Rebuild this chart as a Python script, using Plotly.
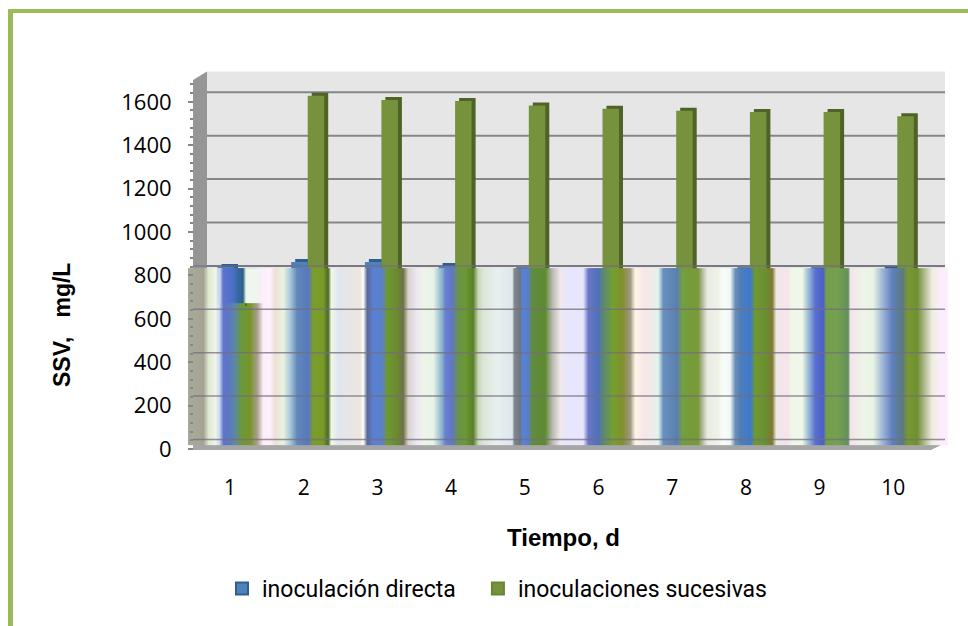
import plotly.graph_objects as go

W, H = 968, 626
DAYS = [1, 2, 3, 4, 5, 6, 7, 8, 9, 10]
DIRECTA = [820, 843, 843, 825, 805, 800, 800, 805, 805, 810]
SUCESIVAS = [640, 1610, 1590, 1585, 1565, 1550, 1540, 1535, 1535, 1515]
Y_TICKS = [0, 200, 400, 600, 800, 1000, 1200, 1400, 1600]
Y_MINOR = list(range(0, 1681, 40))
BAND_GRID = [0, 200, 400, 600, 800]
NAME_A = "inoculación directa\u00a0\u00a0\u00a0"
NAME_B = "inoculaciones sucesivas"
X_TITLE = "Tiempo, d"
Y_TITLE = "SSV,\u00a0\u00a0\u00a0mg/L"

BLUE, BLUE_D = "#4f81bd", "#2f5f8f"
GREEN, GREEN_D = "#76923c", "#4f6228"

# washed-out image band seen over the lower part of the plot: (page x, colour)
BAND = [(193,"#a8a898"),(203,"#a5a394"),(208,"#dfe8cf"),(215,"#eef5e8"),(219,"#c8d8ee"),(222.6,"#5f74cc"),
(230,"#5b7ac0"),(235,"#5e8a9a"),(241.6,"#6c9a2e"),(250,"#78952c"),(256.6,"#a8a08a"),(262.6,"#fdeefc"),
(270,"#fdeffc"),(275,"#efe0d4"),(283,"#e9f5e0"),(290,"#a8c8dc"),(296.6,"#6088b8"),(308,"#5a78c0"),
(313,"#7a9e28"),(323,"#7a9a28"),(328,"#4a6a28"),(330.6,"#f2f8e8"),(338,"#dfe6f0"),(350,"#e8e6e6"),
(360,"#efe6de"),(363,"#ffffff"),(366.6,"#5a6a90"),(372.6,"#5a80d8"),(381.6,"#5a80c8"),(386.6,"#6f9a30"),
(396.6,"#6a8a30"),(403,"#6f7048"),(408,"#d8d4cc"),(416.6,"#efe8f4"),(423,"#eef5e8"),(433,"#e8f4e8"),
(441.6,"#88b0cc"),(445,"#6a80d0"),(451.6,"#6078c8"),(456.6,"#6a9050"),(465,"#6a9a30"),(473,"#5a8028"),
(478,"#c8d8b8"),(483,"#dce6d8"),(496.6,"#e8f0f0"),(511.6,"#dfe6ee"),(514,"#808890"),(520,"#6e7680"),
(521.6,"#5a80d8"),(528,"#5a80c8"),(531.6,"#5f8c40"),(545,"#5f8a30"),(551.6,"#b8b8b0"),(560,"#f0e8ec"),
(566.6,"#e8e6fc"),(583,"#e8e6fc"),(588,"#6a78c8"),(598,"#5070b8"),(603,"#5a8a70"),(613,"#76a030"),
(621.6,"#80902c"),(630,"#a09880"),(635,"#fff4e6"),(643,"#f8e8e8"),(653,"#eeece8"),(658,"#e0f4ec"),
(663,"#6a90c0"),(676.6,"#5a80b0"),(681.6,"#72a040"),(693,"#789a38"),(698,"#789a38"),(701.6,"#b0b898"),
(706.6,"#e8ece0"),(718,"#f0f2ea"),(723,"#f8fff8"),(730,"#f0f8f8"),(735,"#6a90b8"),(740,"#5080b8"),
(750,"#3f78d0"),(755,"#6f9a30"),(765,"#6a9030"),(771.6,"#807830"),(776,"#f0e8e8"),(786.6,"#f6e4ec"),
(791.6,"#eef8e8"),(801.6,"#f0f8e8"),(806.6,"#a8c8d8"),(815,"#5a70d0"),(823,"#4a60c8"),(826,"#74a04c"),
(838,"#74a050"),(848,"#64905c"),(850,"#f2e4ec"),(863,"#eef4e8"),(873,"#e8f4e4"),(881.6,"#a0b8d8"),
(891.6,"#6080c0"),(901.6,"#5a7a80"),(908,"#7a9830"),(916.6,"#6f9030"),(926.6,"#c8ccb0"),(931.6,"#eeeee0"),
(940,"#fcecfc"),(945,"#fcecfc")]
PATCH = [(219,"#c8d8ee"),(222,"#5f74cc"),(232,"#4a70c8"),(236,"#3a6aa8"),(242,"#2f5f88"),(245,"#e8f8e8"),
(250,"#eef8ee"),(258,"#f0f4f0"),(262.6,"#fdeefc")]

S_Y = 0.217     # page px per unit
S_X = 73.7      # page px per day

def yrange(p0):
    return [-(H - p0) / S_Y, p0 / S_Y]

def xrange(c1):
    return [1 - c1 / S_X, 1 + (W - c1) / S_X]

def px(x): return x / W
def py(y): return 1 - y / H
def path(pts):
    return "M" + " L".join(f"{px(x):.5f},{py(y):.5f}" for x, y in pts) + " Z"

fig = go.Figure()

def hidden(i):
    a = "" if i == 1 else str(i)
    fig.add_trace(go.Scatter(x=DAYS, y=[0]*10, mode="markers", marker=dict(opacity=0, size=1),
                             showlegend=False, hoverinfo="skip", xaxis="x"+a, yaxis="y"+a))
hidden(1); hidden(2)

for vals, col, name in ((DIRECTA, BLUE_D, NAME_A), (SUCESIVAS, GREEN_D, NAME_B)):
    fig.add_trace(go.Bar(x=DAYS, y=vals, marker=dict(color=col, line_width=0), showlegend=False,
                         hoverinfo="skip", xaxis="x3", yaxis="y3", name=name))
for vals, col, edge, name in ((DIRECTA, BLUE, "#2f5f8f", NAME_A), (SUCESIVAS, GREEN, "#6b8536", NAME_B)):
    fig.add_trace(go.Bar(x=DAYS, y=vals, marker=dict(color=col, line=dict(width=0)), name=name,
                         xaxis="x4", yaxis="y4", showlegend=False))
    fig.add_trace(go.Scatter(x=[None], y=[None], mode="markers", name=name, xaxis="x4", yaxis="y4",
                             marker=dict(symbol="square", size=15, color=col, line=dict(color=edge, width=1.5))))

def band(stops, lo, hi):
    n = len(stops) - 1
    xs = [s[0] for s in stops]
    dy = (hi - lo) / 4
    scale = [[i / n, s[1]] for i, s in enumerate(stops)]
    zrow = list(range(n + 1))
    fig.add_trace(go.Heatmap(x=xs, y=[lo + dy, hi - dy], z=[zrow, zrow], zmin=0, zmax=n, zsmooth="best",
                             colorscale=scale, showscale=False, hoverinfo="skip", xaxis="x5", yaxis="y5"))

TOP = 815
band([s for s in BAND if s[0] <= 241.6], -2, TOP)
band([s for s in BAND if s[0] >= 250], -2, TOP)
band(PATCH, 655, TOP)

shapes = [
    dict(type="rect", xref="paper", yref="paper", x0=px(207), x1=px(945), y0=py(440), y1=py(71.5),
         fillcolor="#e6e6e6", line_width=0, layer="below"),
    dict(type="path", xref="paper", yref="paper", path=path([(193,80),(207,71.5),(207,440),(193,449)]),
         fillcolor="#969696", line_width=0, layer="below"),
    dict(type="path", xref="paper", yref="paper", path=path([(193,445),(945,441),(945,443),(931,450),(193,450)]),
         fillcolor="#a6a6a6", line_width=0, layer="below"),
    dict(type="rect", xref="paper", yref="paper", x0=px(8), x1=1, y0=py(13), y1=py(9),
         fillcolor="#9bbb59", line_width=0),
    dict(type="rect", xref="paper", yref="paper", x0=px(8), x1=px(13), y0=0, y1=py(9),
         fillcolor="#9bbb59", line_width=0),
]
for v in Y_TICKS:
    shapes.append(dict(type="line", xref="paper", yref="y2", x0=px(207), x1=px(945), y0=v, y1=v,
                       line=dict(color="#868686", width=2), layer="below"))
for v in BAND_GRID:
    shapes.append(dict(type="line", xref="paper", yref="y2", x0=px(193), x1=px(945), y0=v, y1=v,
                       line=dict(color="rgba(115,110,125,0.75)", width=1.5), layer="above"))

FONT = "Open Sans"
layout = dict(
    width=W, height=H, margin=dict(l=0, r=0, t=0, b=0), paper_bgcolor="white", plot_bgcolor="rgba(0,0,0,0)",
    barmode="group", bargap=0.552, bargroupgap=0, font=dict(family=FONT, color="black"), shapes=shapes,
    xaxis=dict(domain=[0,1], range=xrange(230), anchor="free", position=py(449), tickmode="array", tickvals=DAYS,
               ticktext=[str(d) for d in DAYS], ticks="", showgrid=False, zeroline=False, showline=False,
               tickfont=dict(family=FONT, size=21, color="black"), ticklabelstandoff=24),
    yaxis=dict(domain=[0,1], range=yrange(449), anchor="free", position=px(193), tickmode="array", tickvals=Y_TICKS,
               ticktext=[str(v) for v in Y_TICKS], ticks="outside", ticklen=5, tickcolor="#868686", tickwidth=2,
               showgrid=False, zeroline=False, showline=False, ticklabelstandoff=12,
               minor=dict(tickmode="array", tickvals=Y_MINOR, ticks="outside", ticklen=3, tickcolor="#868686", tickwidth=2, showgrid=False),
               tickfont=dict(family=FONT, size=22, color="black")),
    legend=dict(orientation="h", x=px(222), xanchor="left", y=py(567), yanchor="top", bgcolor="rgba(0,0,0,0)",
                font=dict(family="Roboto", size=23, color="black"), itemsizing="constant",
                traceorder="normal"),
    annotations=[
        dict(text=f"<b>{X_TITLE}</b>", xref="paper", yref="paper", x=px(563), y=py(537), showarrow=False,
             xanchor="center", yanchor="middle", font=dict(family="Liberation Sans", size=24, color="black")),
        dict(text=f"<b>{Y_TITLE}</b>", xref="paper", yref="paper", x=px(62), y=py(325), showarrow=False, textangle=-90,
             xanchor="center", yanchor="middle", font=dict(family="Liberation Sans", size=23, color="black")),
    ],
)
for i, (cx, p0) in {2: (230, 439.5), 3: (238, 442), 4: (234, 445)}.items():
    layout[f"xaxis{i}"] = dict(overlaying="x", range=xrange(cx), visible=False, anchor=f"y{i}")
    layout[f"yaxis{i}"] = dict(overlaying="y", range=yrange(p0), visible=False, anchor=f"x{i}")
layout["xaxis5"] = dict(overlaying="x", range=[0, W], visible=False, anchor="y5")
layout["yaxis5"] = dict(overlaying="y", range=yrange(445), visible=False, anchor="x5")
fig.update_layout(**layout)
fig.write_html("out.html", config={"displayModeBar": False},
               post_script="document.body.style.margin='0';document.body.style.overflow='hidden';")
